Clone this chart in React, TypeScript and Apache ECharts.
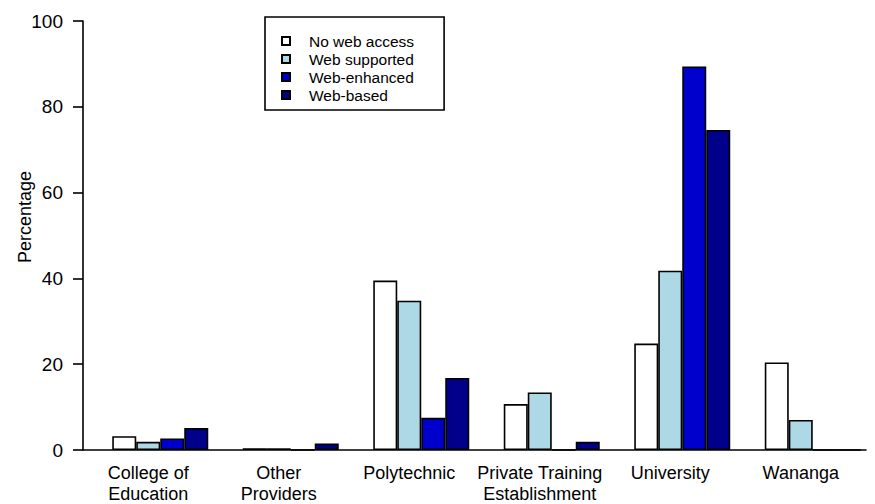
import React, { useEffect, useRef } from "react";
import * as echarts from "echarts";

const categories = [
  "College of\nEducation",
  "Other\nProviders",
  "Polytechnic",
  "Private Training\nEstablishment",
  "University",
  "Wananga",
];
const seriesNames = ["No web access", "Web supported", "Web-enhanced", "Web-based"];
const noWebAccess = [3.2, 0.4, 39.5, 10.7, 24.8, 20.4];
const webSupported = [1.9, 0.4, 34.8, 13.4, 41.8, 7.0];
const webEnhanced = [2.7, 0, 7.5, 0, 89.4, 0];
const webBased = [5.1, 1.5, 16.8, 1.9, 74.6, 0];
const spacer = [null, null, null, null, null, null];
const colors = ["#ffffff", "#add8e6", "#0000cd", "#00008b"];

const FONT = "Liberation Sans, Arial, sans-serif";

export default function App() {
  const ref = useRef<HTMLDivElement>(null);
  useEffect(() => {
    if (!ref.current) return;
    const chart = echarts.init(ref.current, undefined, { renderer: "svg" });
    const values = [noWebAccess, webSupported, webEnhanced, webBased];
    const bars = values.map((d, i) => ({
      name: seriesNames[i],
      type: "bar",
      data: d,
      barWidth: 24,
      barGap: "0%",
      itemStyle: { color: colors[i], borderColor: "#000", borderWidth: 1.6 },
    }));
    chart.setOption({
      animation: false,
      backgroundColor: "#fff",
      textStyle: { fontFamily: FONT },
      grid: { left: 75, right: 9, top: 13, bottom: 53, containLabel: false },
      legend: {
        data: seriesNames,
        orient: "vertical",
        left: 257,
        top: 9,
        padding: [15, 30, 6, 16],
        itemGap: 0,
        itemWidth: 8,
        itemHeight: 8,
        icon: "rect",
        borderColor: "#000",
        borderWidth: 1.6,
        textStyle: { fontFamily: FONT, fontSize: 15.5, color: "#000", lineHeight: 18, padding: [0, 0, 0, 14] },
      },
      graphic: [
        {
          type: "text",
          x: 17,
          y: 209,
          rotation: Math.PI / 2,
          style: {
            text: "Percentage",
            fontFamily: FONT,
            fontSize: 18,
            fill: "#000",
            textAlign: "center",
            textVerticalAlign: "middle",
          },
        },
      ],
      xAxis: {
        type: "category",
        data: categories,
        axisLine: { lineStyle: { color: "#000", width: 1.6 } },
        axisTick: { show: false },
        axisLabel: { color: "#000", fontSize: 18, fontFamily: FONT, lineHeight: 21, margin: 12, interval: 0 },
      },
      yAxis: {
        type: "value",
        min: 0,
        max: 100,
        interval: 20,
        splitLine: { show: false },
        axisLine: { show: true, lineStyle: { color: "#000", width: 1.6 } },
        axisTick: { show: true, length: 10, lineStyle: { color: "#000", width: 1.6 } },
        axisLabel: { color: "#000", fontSize: 19, fontFamily: FONT, margin: 20, padding: [6, 0, 0, 0] },
      },
      series: [
        {
          name: "spacer",
          type: "bar",
          data: spacer,
          barWidth: 24,
          barGap: "0%",
          itemStyle: { color: "transparent" },
        },
        ...bars,
      ],
    });
    return () => chart.dispose();
  }, []);
  return <div ref={ref} style={{ width: 867, height: 496 }} />;
}
